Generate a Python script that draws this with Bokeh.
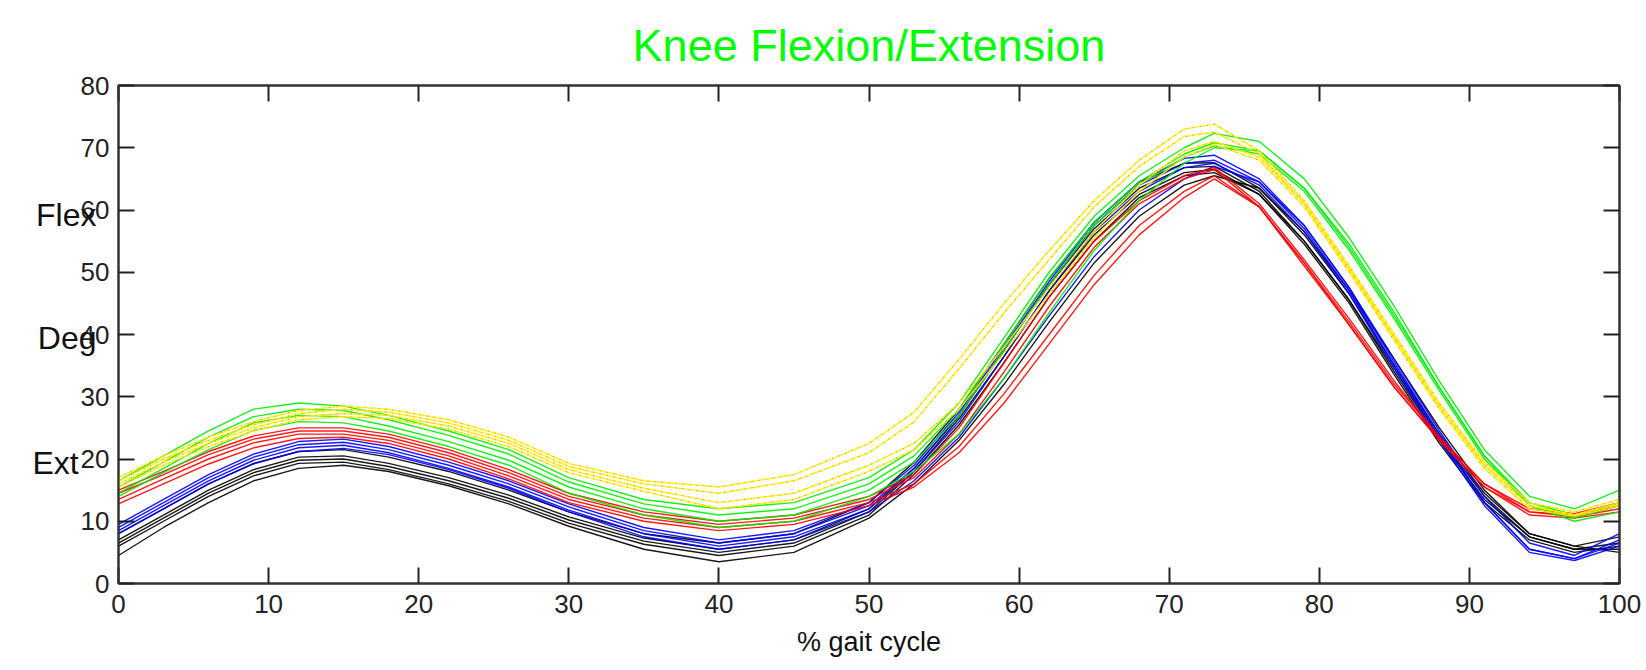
from bokeh.plotting import figure
from bokeh.models import Range1d, LinearAxis, FixedTicker, CustomJSTickFormatter
from bokeh.embed import file_html
from bokeh.resources import INLINE

# % of gait cycle at which knee angles were read
gait_pct = [0, 3, 6, 9, 12, 15, 18, 22, 26, 30, 35, 40, 45, 50, 53, 56, 59, 62, 65, 68, 71, 73, 76, 79, 82, 85, 88, 91, 94, 97, 100]

# black trials (deg)
black_1 = [8, 12, 16, 19.3, 21.2, 21.5, 20.3, 18, 15, 11.5, 8, 6.5, 8, 13, 19.5, 28, 38.5, 49, 58, 64.5, 67.5, 67.6, 63.5, 56, 46.5, 35, 24, 14.5, 8, 6, 7.5]
black_2 = [7, 11, 15, 18.3, 20.3, 20.5, 19.3, 17, 14.2, 10.7, 7.3, 5.5, 7, 12, 18.5, 27, 37.5, 48, 57, 63.5, 66.8, 67, 63, 55, 45.5, 34, 23, 13.5, 7.5, 5.5, 6.5]
black_3 = [6.5, 10.5, 14.5, 17.8, 19.8, 20, 18.8, 16.5, 13.7, 10.2, 6.8, 5, 6.5, 11.5, 18, 26.5, 36.5, 47, 56, 62.5, 66, 66.5, 62.5, 54.5, 45, 33.5, 22.5, 13, 7, 5, 6]
black_4 = [6, 10, 14, 17.3, 19.3, 19.5, 18.3, 16, 13.2, 9.7, 6.3, 4.5, 6, 11, 17.5, 25.5, 35.5, 46, 55, 62, 65.5, 66, 62.5, 55, 45.5, 34.5, 23.5, 14, 7.5, 5.5, 5.5]
black_5 = [4.5, 9, 13, 16.5, 18.5, 19, 18, 15.7, 12.8, 9.2, 5.5, 3.5, 5, 10.5, 16, 23, 32, 42, 51.5, 59, 64, 65.5, 63.5, 56.5, 47, 36, 25, 15, 8, 6, 5]

# blue trials
blue_1 = [9.5, 13.5, 17.5, 20.8, 22.8, 23.2, 22, 19.5, 16.5, 12.8, 9, 7, 8.5, 13, 19, 27.5, 38, 48.5, 58, 64.5, 68.3, 68.8, 65, 57.5, 47.5, 36, 24.5, 14, 6.5, 4.5, 8]
blue_2 = [9, 13, 17, 20.3, 22.3, 22.7, 21.5, 19, 16, 12.3, 8.5, 6.5, 8, 12.5, 18.5, 27, 37.5, 48, 57.5, 64, 67.5, 68, 64.5, 57, 47, 35, 23.5, 13, 5.5, 4, 7]
blue_3 = [8.5, 12.5, 16.5, 19.8, 21.8, 22.2, 21, 18.5, 15.5, 11.8, 8, 6, 7.5, 12, 18, 26, 36.5, 47, 56.5, 63, 66.8, 67.5, 64, 56.5, 46.5, 34.5, 23, 12.5, 5, 3.7, 6]
blue_4 = [8, 12, 16, 19.2, 21.2, 21.7, 20.7, 18.3, 15.3, 11.5, 7.5, 5.5, 7, 11.5, 16.5, 23.5, 33, 43, 52.5, 60, 65, 67, 64.5, 57.5, 47.5, 35.5, 24, 13, 5.5, 4, 6.5]

# red trials
red_1 = [15, 18, 21.2, 23.7, 25, 25, 24, 21.5, 18.3, 14.5, 11.5, 10, 11, 14, 17.5, 25, 35.5, 46, 55, 61.5, 65.5, 66.8, 61, 52, 42.5, 32.5, 23.5, 16, 12, 11.2, 13]
red_2 = [14.5, 17.5, 20.7, 23.2, 24.5, 24.5, 23.5, 21, 17.8, 14, 11, 9.5, 10.5, 13.5, 17, 24, 34, 44.5, 54, 61, 65, 66.5, 60.5, 51, 41.5, 31.5, 23, 15.5, 11.5, 11, 12.5]
red_3 = [13.5, 16.8, 20, 22.6, 24, 24, 23, 20.5, 17.3, 13.5, 10.5, 9, 10, 13, 16, 22, 30.5, 40, 49.5, 57.5, 63, 65.5, 60.5, 51.5, 42, 32, 23.5, 16, 11.5, 10.7, 12]
red_4 = [12.8, 16, 19.2, 21.8, 23.3, 23.5, 22.5, 20, 16.8, 13, 10, 8.5, 9.5, 12.5, 15.5, 21, 29, 38.5, 48, 56, 62, 65, 60.5, 51.5, 41.5, 31.5, 23, 15.5, 11, 10.5, 11.5]

# green trials
green_1 = [16.5, 20.5, 24.5, 28, 29, 28.5, 27, 24.5, 21.5, 17, 13.5, 12, 13, 17, 21.5, 29, 39.5, 50, 59, 65.5, 70, 72.3, 71, 65, 55.5, 44.5, 32.5, 21.5, 14, 12, 15]
green_2 = [15.5, 19.5, 23.5, 26.8, 28, 27.8, 26.3, 23.8, 20.8, 16.3, 12.8, 11, 12, 16, 20.5, 28, 38.5, 49, 58, 64.5, 69, 70.8, 69.5, 63.5, 54, 43, 31.5, 20.5, 13, 11, 13]
green_3 = [14.5, 18.5, 22.5, 25.8, 27, 26.8, 25.3, 22.8, 19.8, 15.5, 12, 10, 11, 15, 19.5, 27, 37.5, 48, 57.5, 64, 68.5, 70.3, 69, 63, 53.5, 42.5, 31, 20, 12.5, 10.5, 12.5]
green_4 = [14, 17.8, 21.5, 24.6, 26, 25.8, 24.5, 22, 19, 14.5, 11, 9, 10, 14, 18, 24, 33, 43.5, 53.5, 61.5, 67.5, 70, 69.5, 63.5, 54.5, 43.5, 31.5, 20.5, 12.5, 10, 11.5]

# yellow trials
yellow_1 = [17, 20.5, 23.5, 26, 27.8, 28.5, 28, 26.3, 23.5, 19.3, 16.5, 15.5, 17.5, 22.5, 27.5, 36, 45, 53.5, 61.5, 68, 73, 73.8, 69.5, 61.5, 51, 40, 29, 19.5, 13, 11.5, 13.5]
yellow_2 = [16.5, 20, 23, 25.5, 27.3, 28, 27.5, 25.8, 23, 18.8, 16, 14.5, 16.5, 21, 26, 34.5, 43.5, 52, 60.5, 67, 71.8, 72.5, 69, 61, 50.5, 39.5, 28.5, 19, 12.5, 11, 13]
yellow_3 = [16, 19.5, 22.5, 25, 26.8, 27.3, 27, 25.3, 22.5, 18.3, 15.3, 13, 14.5, 19, 22.5, 29, 38, 47.5, 56.5, 64, 69.5, 71, 68.5, 61, 50.5, 39.5, 28.5, 19, 12.5, 11, 12.8]
yellow_4 = [15.5, 19, 22, 24.5, 26.3, 26.8, 26.5, 24.8, 22, 17.8, 14.8, 12, 13.5, 18, 21.5, 28, 37, 46.5, 55.5, 63, 68.5, 70.5, 68, 60.5, 50, 39, 28, 18.5, 12, 10.8, 12.5]

x_ticks = [0, 10, 20, 30, 40, 50, 60, 70, 80, 90, 100]
y_ticks = [0, 10, 20, 30, 40, 50, 60, 70, 80]
side_labels = ["Flex", "Deg", "Ext\u00a0\u00a0"]
side_label_y = [59.2, 39.4, 19.3]

FONT = "Liberation Sans"

p = figure(width=1641, height=660, x_range=Range1d(0, 100), y_range=Range1d(0, 80),
           output_backend="svg", toolbar_location=None,
           min_border_left=118, min_border_right=22, min_border_top=85, min_border_bottom=77,
           x_axis_label="% gait cycle")
p.background_fill_color = "white"
p.border_fill_color = "white"
p.outline_line_color = "#333333"
p.outline_line_width = 2
p.xgrid.visible = False
p.ygrid.visible = False

p.title.text = "Knee Flexion/Extension"
p.title.align = "center"
p.title.text_font = FONT
p.title.text_font_size = "45px"
p.title.text_font_style = "normal"
p.title.text_color = "#00ff00"
p.title.standoff = 29

def style_axis(ax, ticks, show_labels):
    ax.ticker = FixedTicker(ticks=ticks)
    ax.major_tick_in = 16
    ax.major_tick_out = 0
    ax.minor_tick_line_color = None
    ax.major_tick_line_color = "#222222"
    ax.major_tick_line_width = 2
    ax.axis_line_color = "#333333"
    ax.axis_line_width = 2
    ax.major_label_text_font = FONT
    ax.major_label_text_font_size = "26px"
    ax.major_label_text_color = "#222222"
    if not show_labels:
        ax.formatter = CustomJSTickFormatter(code="return '';")
        ax.major_label_standoff = 0

style_axis(p.xaxis[0], x_ticks, True)
style_axis(p.yaxis[0], y_ticks, True)
p.xaxis.major_label_standoff = 11
p.yaxis.major_label_standoff = 9
p.xaxis.axis_label_text_font = FONT
p.xaxis.axis_label_text_font_size = "27px"
p.xaxis.axis_label_text_font_style = "normal"
p.xaxis.axis_label_text_color = "#111111"
p.xaxis.axis_label_standoff = 11

top_ax = LinearAxis()
style_axis(top_ax, x_ticks, False)
p.add_layout(top_ax, "above")
right_ax = LinearAxis()
style_axis(right_ax, y_ticks, False)
p.add_layout(right_ax, "right")

# Flex / Deg / Ext annotations on the left, overlapping the tick labels
side_ax = LinearAxis()
side_ax.ticker = FixedTicker(ticks=side_label_y)
side_ax.formatter = CustomJSTickFormatter(args=dict(vals=side_label_y, names=side_labels),
                                          code="const i = vals.indexOf(tick); return i >= 0 ? names[i] : '';")
side_ax.axis_line_color = None
side_ax.major_tick_line_color = None
side_ax.minor_tick_line_color = None
side_ax.major_tick_in = 0
side_ax.major_tick_out = 0
side_ax.major_label_standoff = -19
side_ax.major_label_text_font = FONT
side_ax.major_label_text_font_size = "32px"
side_ax.major_label_text_color = "#111111"
p.add_layout(side_ax, "left")

groups = [
    ("black", [black_1, black_2, black_3, black_4, black_5]),
    ("#0000ff", [blue_1, blue_2, blue_3, blue_4]),
    ("#ff0000", [red_1, red_2, red_3, red_4]),
    ("#00ee00", [green_1, green_2, green_3, green_4]),
    ("#ffee00", [yellow_1, yellow_2, yellow_3, yellow_4]),
]
for color, curves in groups:
    for ys in curves:
        p.line(gait_pct, ys, line_color=color, line_width=1.4, line_alpha=0.9)
        if color == "#ffee00":
            p.line(gait_pct, ys, line_color="#ff9900", line_width=1.2, line_dash="1 6")

open("out.html", "w").write(file_html(p, INLINE))
